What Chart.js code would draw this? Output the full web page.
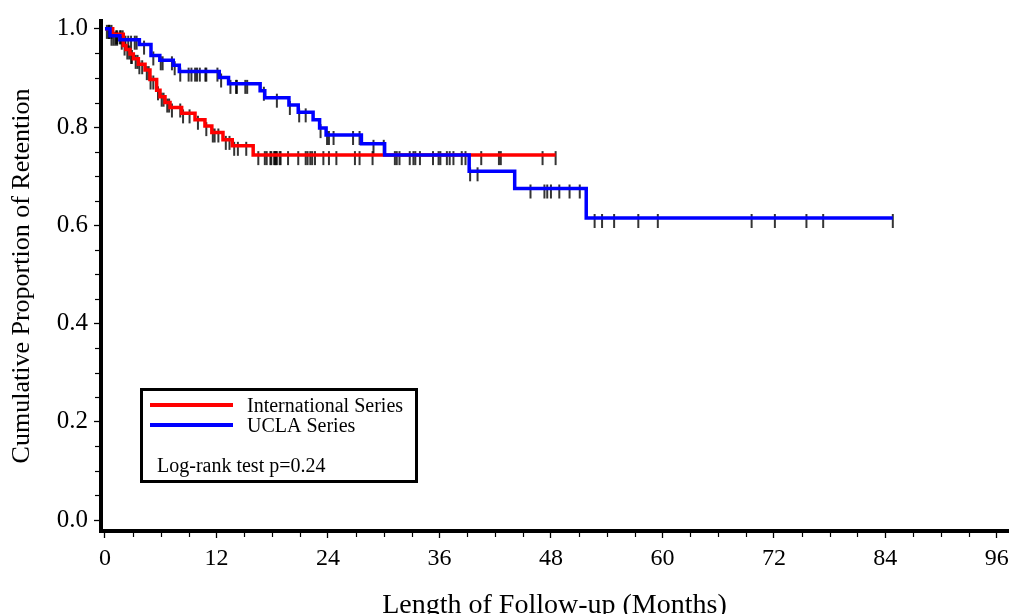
<!DOCTYPE html>
<html><head><meta charset="utf-8">
<script src="https://cdn.jsdelivr.net/npm/chart.js@4/dist/chart.umd.min.js"></script>
<style>html,body{margin:0;padding:0;background:#fff}#wrap{width:1019px;height:614px}</style>
</head><body><div id="wrap"><canvas id="c" width="1019" height="614"></canvas></div>
<script>
// ---------- data ----------
const seriesNames = ['International Series', 'UCLA Series'];
const xTitle = 'Length of Follow-up (Months)';
const yTitle = 'Cumulative Proportion of Retention';
const pValueText = 'Log-rank test p=0.24';
const xTickValues = [0, 12, 24, 36, 48, 60, 72, 84, 96];
const yTickValues = [0, 0.2, 0.4, 0.6, 0.8, 1.0];

// Kaplan-Meier step points (time in months, survival after the step)
const intlTimes = [0, 0.83, 1.97, 2.26, 2.69, 3.05, 3.59, 4.31, 4.84, 5.56, 5.92, 6.46, 7.0, 8.25, 9.69, 10.76, 11.5, 12.7, 13.7, 15.95, 48.5];
const intlSurv  = [1.0, 0.989, 0.966, 0.958, 0.949, 0.939, 0.928, 0.916, 0.897, 0.875, 0.862, 0.850, 0.840, 0.828, 0.815, 0.802, 0.789, 0.774, 0.762, 0.743, 0.743];

const uclaTimes = [0, 0.54, 1.6, 3.7, 4.95, 5.9, 7.35, 8.0, 12.3, 13.3, 16.7, 17.2, 19.8, 20.8, 22.4, 23.1, 23.8, 27.6, 30.1, 39.2, 44.1, 51.8, 84.8];
const uclaSurv  = [1.0, 0.986, 0.978, 0.968, 0.946, 0.936, 0.926, 0.913, 0.901, 0.888, 0.874, 0.860, 0.845, 0.830, 0.815, 0.798, 0.784, 0.766, 0.743, 0.710, 0.675, 0.615, 0.615];

// censored observation times (months)
const intlCensored = [0.4, 0.5, 0.7, 1.2, 1.3, 1.6, 1.7, 1.9, 2.1, 2.4, 2.6, 2.8, 2.9, 3.3, 3.5, 3.7, 4.0, 4.5, 4.7, 4.9, 5.2, 5.7, 6.1, 6.3, 6.7, 6.9, 7.2, 8.1, 8.4, 9.1, 10.0, 10.9, 11.6, 11.8, 12.2, 13.0, 13.4, 13.9, 14.3, 15.2, 16.5, 17.2, 17.4, 17.8, 17.9, 18.2, 18.3, 18.4, 18.5, 18.8, 18.9, 19.7, 20.8, 21.6, 21.8, 22.1, 22.3, 22.6, 23.5, 24.1, 24.9, 26.9, 27.4, 28.8, 31.2, 31.7, 32.8, 33.4, 35.3, 36.1, 37.1, 38.4, 40.5, 42.4, 42.6, 47.1, 48.5];
const uclaCensored = [0.2, 0.4, 0.7, 0.9, 1.1, 1.3, 1.8, 2.2, 2.5, 2.8, 3.2, 3.4, 4.2, 5.2, 6.0, 6.2, 7.2, 7.5, 8.1, 9.0, 9.3, 9.7, 9.9, 10.2, 10.8, 10.9, 12.1, 12.5, 13.5, 14.1, 14.2, 15.1, 15.3, 17.1, 18.5, 19.9, 20.9, 21.6, 23.2, 23.9, 24.1, 24.6, 26.7, 27.4, 28.9, 30.0, 31.4, 33.2, 33.9, 35.9, 36.8, 37.5, 38.8, 39.3, 40.1, 45.8, 47.3, 47.6, 48.0, 48.9, 50.0, 51.1, 52.7, 53.5, 54.8, 57.4, 59.5, 69.6, 72.1, 75.5, 77.3, 84.8];

// ---------- helpers ----------
function toPoints(times, surv) { return times.map((t, i) => ({x: t, y: surv[i]})); }
function survAt(times, surv, t) {
  let s = surv[0];
  for (let i = 0; i < times.length; i++) if (times[i] <= t) s = surv[i];
  return s;
}
function censorPoints(cens, times, surv) { return cens.map(t => ({x: t, y: survAt(times, surv, t)})); }
function makeTickMark() {
  const c = document.createElement('canvas');
  c.width = 4; c.height = 28;
  const g = c.getContext('2d');
  g.strokeStyle = '#000'; g.lineWidth = 1.6;
  g.beginPath(); g.moveTo(2, 10); g.lineTo(2, 24); g.stroke();
  return c;
}
const tickMark = makeTickMark();
const SERIF = "'Liberation Serif', 'Times New Roman', serif";
const colors = ['#ff0000', '#0000ff'];

const minorTicks = {
  id: 'minorTicks',
  afterDraw(chart) {
    const {ctx, chartArea, scales: {x, y}} = chart;
    ctx.save();
    ctx.strokeStyle = '#000'; ctx.lineWidth = 1.2;
    for (let i = 1; i < 32; i++) {
      if (i % 4 === 0) continue;
      const px = Math.round(x.getPixelForValue(i * 3)) + 0.5;
      ctx.beginPath(); ctx.moveTo(px, chartArea.bottom + 2); ctx.lineTo(px, chartArea.bottom + 6); ctx.stroke();
    }
    for (let i = 1; i < 20; i++) {
      if (i % 4 === 0) continue;
      const py = Math.round(y.getPixelForValue(i * 0.05)) + 0.5;
      ctx.beginPath(); ctx.moveTo(chartArea.left - 2, py); ctx.lineTo(chartArea.left - 6, py); ctx.stroke();
    }
    ctx.restore();
  }
};

const legendBox = {
  id: 'legendBox',
  afterDraw(chart) {
    const ctx = chart.ctx;
    ctx.save();
    ctx.strokeStyle = '#000'; ctx.lineWidth = 3;
    ctx.strokeRect(141.5, 389.5, 275, 92);
    ctx.font = '20px ' + SERIF;
    ctx.textBaseline = 'middle'; ctx.textAlign = 'left'; ctx.fillStyle = '#000';
    const rows = [405, 425];
    seriesNames.forEach((name, i) => {
      ctx.strokeStyle = colors[i]; ctx.lineWidth = 4;
      ctx.beginPath(); ctx.moveTo(150, rows[i]); ctx.lineTo(233, rows[i]); ctx.stroke();
      ctx.fillText(name, 247, rows[i] + 2);
    });
    ctx.fillText(pValueText, 157, 467);
    ctx.restore();
  }
};

new Chart(document.getElementById('c'), {
  type: 'scatter',
  data: {
    datasets: [
      {label: seriesNames[1], data: toPoints(uclaTimes, uclaSurv), showLine: true, stepped: 'before',
       borderColor: colors[1], borderWidth: 3.5, pointRadius: 0, order: 0, borderCapStyle: 'butt'},
      {label: seriesNames[0], data: toPoints(intlTimes, intlSurv), showLine: true, stepped: 'before',
       borderColor: colors[0], borderWidth: 3.5, pointRadius: 0, order: 1, borderCapStyle: 'butt'},
      {label: 'UCLA censored', data: censorPoints(uclaCensored, uclaTimes, uclaSurv), showLine: false,
       pointStyle: tickMark, pointRadius: 6, order: 2},
      {label: 'International censored', data: censorPoints(intlCensored, intlTimes, intlSurv), showLine: false,
       pointStyle: tickMark, pointRadius: 6, order: 3}
    ]
  },
  options: {
    responsive: false, animation: false, devicePixelRatio: 1,
    layout: {padding: {top: 19, right: 11, left: 0, bottom: 0}},
    plugins: {legend: {display: false}, tooltip: {enabled: false}},
    scales: {
      x: {
        type: 'linear', min: -0.43, max: 97.2,
        afterBuildTicks: s => { s.ticks = xTickValues.map(v => ({value: v})); },
        afterFit: s => { s.height = 83; },
        grid: {drawOnChartArea: false, drawTicks: true, tickLength: 7, tickWidth: 1.3, tickColor: '#000'},
        border: {display: true, color: '#000', width: 4},
        ticks: {color: '#000', font: {family: SERIF, size: 24}, padding: 6, maxRotation: 0, autoSkip: false,
                callback: v => String(v)},
        title: {display: true, text: xTitle, color: '#000', font: {family: SERIF, size: 28, lineHeight: 1},
                padding: {top: 0, bottom: -6}}
      },
      y: {
        type: 'linear', min: -0.0223, max: 1.016,
        afterBuildTicks: s => { s.ticks = yTickValues.map(v => ({value: v})); },
        afterFit: s => { s.width = 101; },
        grid: {drawOnChartArea: false, drawTicks: true, tickLength: 7, tickWidth: 1.3, tickColor: '#000'},
        border: {display: true, color: '#000', width: 4},
        ticks: {color: '#000', font: {family: SERIF, size: 25}, padding: 6, autoSkip: false,
                callback: v => Number(v).toFixed(1)},
        title: {display: true, text: yTitle, color: '#000', font: {family: SERIF, size: 26, lineHeight: 1},
                padding: {top: 9, bottom: 0}}
      }
    }
  },
  plugins: [minorTicks, legendBox]
});
</script>
</body></html>
